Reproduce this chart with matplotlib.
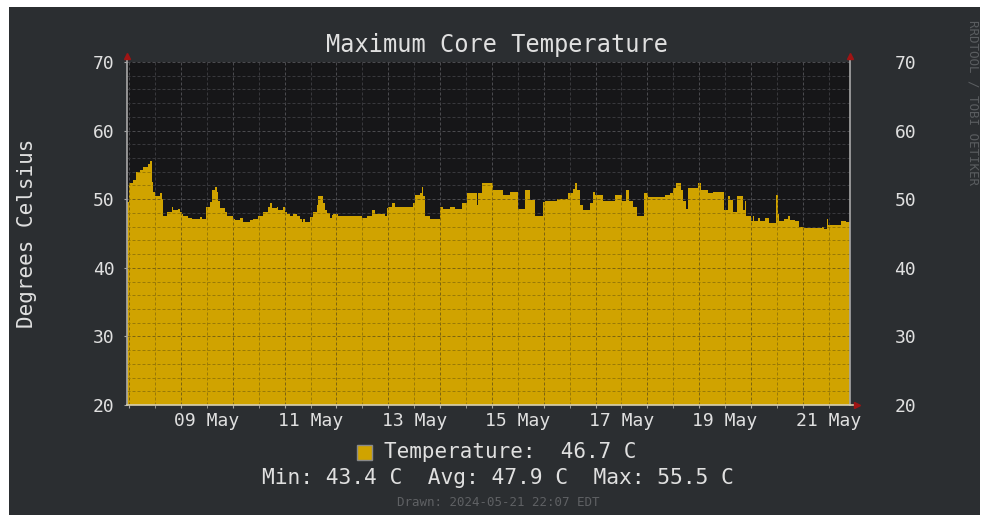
import matplotlib
matplotlib.use('Agg')
import matplotlib.pyplot as plt
import matplotlib.dates as mdates
from matplotlib.ticker import MultipleLocator
from matplotlib.patches import Rectangle
import pandas as pd

# ---------------- data ----------------
start_time = pd.Timestamp('2024-05-07 23:00')
end_time = pd.Timestamp('2024-05-21 21:50')

hours = [0.0, 1.1, 2.9, 4.2, 6.0, 7.6, 9.9, 10.7, 11.4, 12.2, 13.0, 15.3, 16.1, 16.8,
         18.4, 20.7, 21.4, 23.8, 24.5, 25.3, 26.1, 28.4, 30.0, 33.8, 34.6, 36.6, 38.4,
         39.2, 40.8, 41.5, 42.3, 43.1, 45.4, 46.2, 49.2, 50.0, 52.3, 53.9, 57.0, 58.5,
         60.8, 63.1, 65.4, 66.2, 67.0, 69.3, 70.1, 72.4, 73.2, 74.0, 75.5, 77.0, 78.6,
         80.1, 80.9, 81.7, 82.4, 84.8, 86.3, 87.9, 88.6, 90.9, 91.7, 92.5, 94.0, 94.8,
         95.6, 97.9, 108.7, 111.0, 113.3, 114.9, 119.5, 120.3, 121.0, 122.6, 124.1,
         132.6, 133.4, 135.7, 136.5, 137.2, 138.0, 140.3, 145.0, 146.5, 149.6, 151.9,
         155.0, 157.3, 162.0, 162.7, 164.3, 166.6, 169.7, 174.3, 177.4, 181.3, 184.4,
         186.7, 189.0, 192.8, 193.6, 199.0, 204.4, 206.7, 207.5, 208.3, 209.8, 211.4,
         214.5, 216.0, 216.8, 220.6, 226.0, 229.1, 231.1, 232.7, 234.5, 236.4, 239.6,
         241.5, 249.2, 251.5, 253.0, 254.3, 256.6, 257.7, 258.9, 260.0, 264.3, 265.9,
         269.0, 271.3, 276.5, 278.2, 279.3, 280.6, 282.7, 285.2, 286.0, 286.8, 289.0,
         289.8, 290.6, 292.4, 293.2, 295.5, 297.1, 300.6, 301.4, 302.1, 304.4, 306.0,
         307.1, 309.4, 311.4, 313.3, 321.8, 322.6, 324.1, 324.7, 330.8, 333.1]

temps = [49.6, 52.3, 52.8, 54.0, 54.2, 54.7, 55.2, 55.5, 52.5, 51.1, 50.4, 50.9, 50.0, 47.6,
         48.2, 48.9, 48.4, 48.6, 48.2, 47.8, 47.6, 47.2, 47.1, 47.4, 47.1, 48.9, 49.6,
         51.3, 51.8, 51.1, 49.8, 48.7, 48.2, 47.6, 47.1, 47.0, 47.2, 46.7, 47.0, 47.1,
         47.6, 48.2, 48.9, 49.4, 48.7, 48.9, 48.4, 48.9, 48.2, 47.9, 47.6, 47.9, 47.5,
         47.1, 46.7, 47.1, 46.7, 47.4, 48.2, 49.2, 50.5, 49.5, 48.4, 48.0, 47.2, 47.7,
         47.9, 47.5, 47.2, 47.5, 48.4, 47.9, 47.5, 48.7, 48.9, 49.4, 48.9,
         49.4, 50.6, 50.9, 51.8, 50.4, 47.6, 47.1, 48.9, 48.6, 48.9, 48.6,
         49.4, 50.9, 49.1, 50.9, 52.3, 52.4, 51.3, 50.6, 51.0, 48.5, 51.3,
         49.9, 47.6, 49.6, 49.8, 50.0, 50.9, 51.5, 52.3, 51.3, 49.1, 48.4,
         49.4, 51.1, 50.6, 49.8, 50.6, 49.8, 51.4, 49.8, 48.9, 47.6, 50.9,
         50.3, 50.6, 50.9, 51.6, 52.3, 51.3, 49.8, 48.6, 51.6, 52.3, 51.3,
         50.9, 51.0, 48.4, 50.4, 49.9, 48.2, 50.4, 48.4, 49.8, 47.5, 46.8,
         47.5, 46.8, 47.3, 46.8, 47.2, 46.6, 50.6, 47.8, 46.8, 47.1, 47.5,
         47.0, 46.8, 46.0, 45.8, 46.0, 45.6, 47.1, 46.2, 46.8, 46.7]

x_label_times = pd.date_range('2024-05-09 12:00', '2024-05-21 12:00', freq='2D')
x_labels = ['09 May', '11 May', '13 May', '15 May', '17 May', '19 May', '21 May']
y_ticks = [20, 30, 40, 50, 60, 70]

title = 'Maximum Core Temperature'
y_title = 'Degrees Celsius'
legend_name = 'Temperature:'
stat_cur, stat_min, stat_avg, stat_max = 46.7, 43.4, 47.9, 55.5
drawn_text = 'Drawn: 2024-05-21 22:07 EDT'
watermark = 'RRDTOOL / TOBI OETIKER'

# ---------------- style ----------------
W, H = 984, 518
BG = '#2b2e31'
CANVAS = '#161618'
GOLD = '#d0a300'
TXT = '#e0e0e0'
AXC = '#a8a8a8'
ARROW = '#a01414'
MONO = 'DejaVu Sans Mono'
plt.rcParams['font.family'] = MONO

fig = plt.figure(figsize=(W / 100, H / 100), dpi=100, facecolor='white')


def fx(px):
    return px / W


def fy(py):
    return 1 - py / H


fig.patches.append(Rectangle((fx(9), fy(515)), fx(980) - fx(9), fy(7) - fy(515),
                             transform=fig.transFigure, facecolor=BG, edgecolor='none',
                             zorder=-10))

L, R, T, B = 127, 850, 62, 405
ax = fig.add_axes([fx(L), fy(B), fx(R) - fx(L), fy(T) - fy(B)])
ax.set_facecolor(CANVAS)
for s in ax.spines.values():
    s.set_visible(False)

times = list(start_time + pd.to_timedelta(hours, unit='h')) + [end_time]
vals = temps + [temps[-1]]
coll = ax.fill_between(times, vals, 20, step='post', facecolor=GOLD, edgecolor='none',
                       zorder=1)

ax.set_xlim(start_time, end_time)
ax.set_ylim(20, 70)

ax.xaxis.set_major_locator(mdates.DayLocator())
ax.xaxis.set_minor_locator(mdates.HourLocator(byhour=[12]))
ax.yaxis.set_major_locator(MultipleLocator(10))
ax.yaxis.set_minor_locator(MultipleLocator(2))

dash = (0, (3, 2))
ax.set_axisbelow(True)
ax.grid(True, which='minor', color='#38383c', linestyle=dash, linewidth=0.72)
ax.grid(True, which='major', color='#4a4a4e', linestyle=dash, linewidth=0.72)

# grid over the filled area, darker on the gold
path = coll.get_paths()[0]
xmaj = ax.xaxis.get_majorticklocs()
xmin_ = ax.xaxis.get_minorticklocs()
ymaj = ax.yaxis.get_majorticklocs()
ymin_ = ax.yaxis.get_minorticklocs()
over = []
over.append(ax.vlines(xmin_, 20, 70, colors='#9a7a06', linestyles=dash, linewidth=0.72, zorder=2))
over.append(ax.vlines(xmaj, 20, 70, colors='#7d6410', linestyles=dash, linewidth=0.72, zorder=2))
over.append(ax.hlines(ymin_, *ax.get_xlim(), colors='#9a7a06', linestyles=dash, linewidth=0.72, zorder=2))
over.append(ax.hlines(ymaj, *ax.get_xlim(), colors='#7d6410', linestyles=dash, linewidth=0.72, zorder=2))
for lc in over:
    lc.set_clip_path(path, ax.transData)

ax.tick_params(axis='x', which='both', labelbottom=False, length=2, color=AXC,
               direction='out')
ax.tick_params(axis='y', which='major', labelleft=True, length=2, color=AXC,
               labelcolor=TXT, labelsize=13, pad=7)
ax.tick_params(axis='y', which='minor', length=0)
ax.set_yticks(y_ticks)
ax.set_yticklabels([str(v) for v in y_ticks])

# axis lines with arrows
ax.plot([0, 0], [0, 1.016], transform=ax.transAxes, color=AXC, lw=1.2, clip_on=False, zorder=5)
ax.plot([1, 1], [0, 1.016], transform=ax.transAxes, color=AXC, lw=1.2, clip_on=False, zorder=5)
ax.plot([0, 1.008], [0, 0], transform=ax.transAxes, color='#d8d0b0', lw=1.2, clip_on=False, zorder=5)
ax.plot([0], [1.018], transform=ax.transAxes, marker='^', color=ARROW, ms=5, clip_on=False, zorder=6)
ax.plot([1], [1.018], transform=ax.transAxes, marker='^', color=ARROW, ms=5, clip_on=False, zorder=6)
ax.plot([1.009], [0], transform=ax.transAxes, marker='>', color=ARROW, ms=5, clip_on=False, zorder=6)

# right axis labels
sy = ax.secondary_yaxis('right')
sy.set_yticks(y_ticks)
sy.set_yticklabels([str(v) for v in y_ticks])
sy.tick_params(length=0, pad=32, labelcolor=TXT, labelsize=13)
for s in sy.spines.values():
    s.set_visible(False)

# x labels (centred at noon)
sx = ax.secondary_xaxis('bottom')
sx.set_xticks(mdates.date2num(x_label_times))
sx.set_xticklabels(x_labels)
sx.tick_params(length=0, pad=5, labelcolor=TXT, labelsize=13)
for s in sx.spines.values():
    s.set_visible(False)

# texts
fig.text(fx(497), fy(45), title, ha='center', va='center', color=TXT, fontsize=17)
fig.text(fx(27), fy(233), y_title, ha='center', va='center', rotation=90, color=TXT,
         fontsize=15)
fig.text(fx(973), fy(102), watermark, ha='center', va='center', rotation=-90,
         color='#5a5d60', fontsize=9)

fig.patches.append(Rectangle((fx(357), fy(460)), fx(372) - fx(357), fy(445) - fy(460),
                             transform=fig.transFigure, facecolor=GOLD, edgecolor='#8a8a8a',
                             lw=1, zorder=5))
fig.text(fx(384), fy(452), f'{legend_name}  {stat_cur:.1f} C', ha='left', va='center',
         color=TXT, fontsize=15)
fig.text(fx(498), fy(478),
         f'Min: {stat_min:.1f} C  Avg: {stat_avg:.1f} C  Max: {stat_max:.1f} C',
         ha='center', va='center', color=TXT, fontsize=15.3)
fig.text(fx(498), fy(503), drawn_text, ha='center', va='center', color='#5f6164',
         fontsize=9)

fig.savefig('out.png', dpi=100, facecolor=fig.get_facecolor())
